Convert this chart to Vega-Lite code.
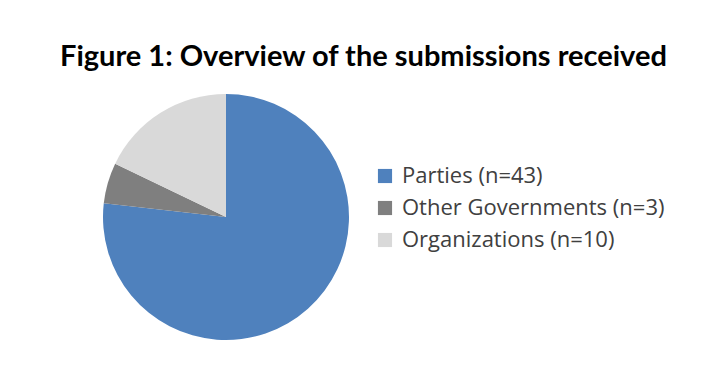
{
  "$schema": "https://vega.github.io/schema/vega-lite/v6.json",
  "width": 432,
  "height": 274,
  "autosize": "none",
  "padding": {"left": 10, "top": 80, "right": 270, "bottom": 14},
  "background": "white",
  "config": {"view": {"stroke": null}},
  "title": {
    "text": "Figure 1: Overview of the submissions received",
    "anchor": "start",
    "frame": "group",
    "dx": 50,
    "offset": 8,
    "font": "Lato",
    "fontWeight": "bold",
    "fontSize": 29,
    "color": "#000000"
  },
  "data": {
    "values": [
      {"category": "Parties (n=43)", "n": 43, "order": 1},
      {"category": "Other Governments (n=3)", "n": 3, "order": 2},
      {"category": "Organizations (n=10)", "n": 10, "order": 3}
    ]
  },
  "mark": {"type": "arc", "outerRadius": 123},
  "encoding": {
    "theta": {"field": "n", "type": "quantitative", "stack": true},
    "order": {"field": "order", "type": "quantitative"},
    "color": {
      "field": "category",
      "type": "nominal",
      "scale": {
        "domain": ["Parties (n=43)", "Other Governments (n=3)", "Organizations (n=10)"],
        "range": ["#4F81BD", "#7F7F7F", "#D9D9D9"]
      },
      "legend": {
        "title": null,
        "orient": "none",
        "legendX": 364,
        "legendY": 85,
        "symbolType": "square",
        "symbolSize": 200,
        "symbolStrokeWidth": 0,
        "labelFont": "Open Sans",
        "labelFontSize": 22,
        "labelColor": "#404040",
        "labelOffset": 6,
        "rowPadding": 10,
        "labelLimit": 400
      }
    }
  }
}
